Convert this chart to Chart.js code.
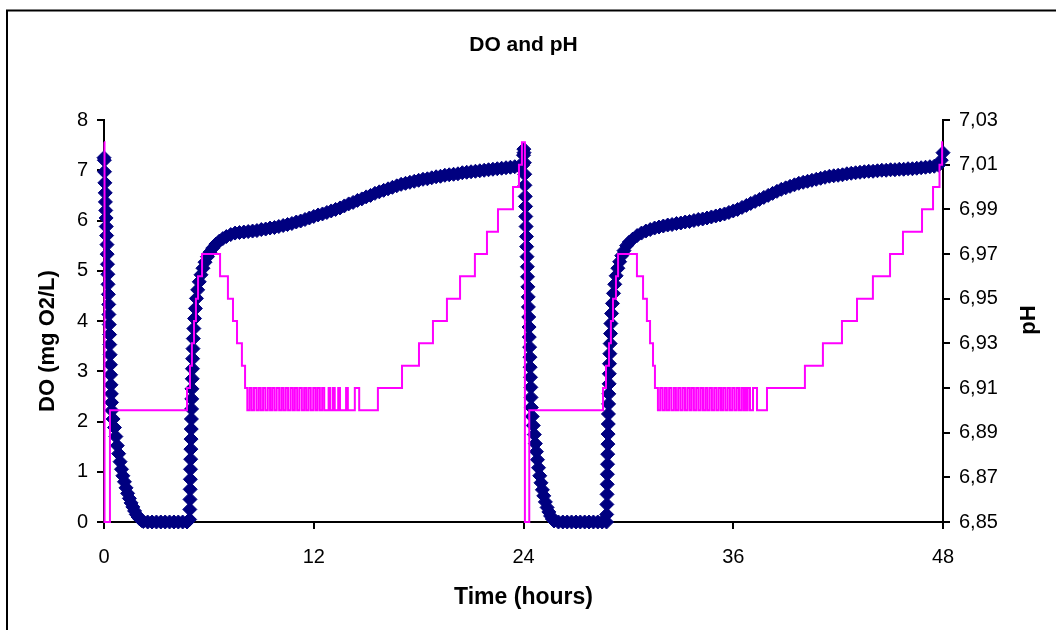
<!DOCTYPE html>
<html>
<head>
<meta charset="utf-8">
<title>DO and pH</title>
<script src="https://cdn.jsdelivr.net/npm/chart.js@4.4.1/dist/chart.umd.min.js"></script>
<style>
  html, body { margin: 0; padding: 0; background: #fff; }
  canvas { display: block; }
</style>
</head>
<body>
<canvas id="grafica" width="1056" height="630"></canvas>
<script>
// Textos de la gráfica
const tituloGrafica = 'DO and pH';
const tituloX = 'Time (hours)';
const tituloDO = 'DO (mg O2/L)';
const tituloPH = 'pH';

// Marcas de los ejes
const ticksX = [0, 12, 24, 36, 48];
const ticksDO = [0, 1, 2, 3, 4, 5, 6, 7, 8];
const ticksPH = [6.85, 6.87, 6.89, 6.91, 6.93, 6.95, 6.97, 6.99, 7.01, 7.03];

// Oxígeno disuelto (horas / mg O2/L)
const doTime = [
    0, 0.02, 0.03, 0.05, 0.07, 0.08, 0.10, 0.12, 0.13, 0.15, 0.17, 0.18, 0.20, 0.22, 0.23, 0.25, 0.27, 0.28, 0.30, 0.32, 0.33, 0.35, 0.37, 0.38, 0.40, 0.42, 0.43, 0.45,
    0.52, 0.60, 0.68, 0.76, 0.84, 0.92, 1.00, 1.08, 1.17, 1.26, 1.35, 1.45, 1.55, 1.65, 1.75, 1.85, 1.95, 2.05, 2.15, 2.25,
    2.5, 2.75, 3, 3.25, 3.5, 3.75, 4, 4.25, 4.5, 4.75,
    4.90, 4.91, 4.92, 4.93, 4.94, 4.95, 4.96, 4.97, 4.98, 4.99, 5.00, 5.01, 5.02, 5.03, 5.05, 5.06, 5.07, 5.09,
    5.11, 5.14, 5.18, 5.23, 5.29, 5.36, 5.45, 5.55, 5.66, 5.78, 5.92, 6.06, 6.22, 6.40, 6.60, 6.80, 7.00, 7.25, 7.50,
    7.75, 8.0, 8.25, 8.5, 8.75, 9.0, 9.25, 9.5, 9.75, 10.0,
    10.25, 10.5, 10.75, 11.0, 11.25, 11.5, 11.75, 12.0, 12.25, 12.5,
    12.75, 13.0, 13.25, 13.5, 13.75, 14.0, 14.25, 14.5, 14.75, 15.0,
    15.25, 15.5, 15.75, 16.0, 16.25, 16.5, 16.75, 17.0, 17.25, 17.5,
    17.75, 18.0, 18.25, 18.5, 18.75, 19.0, 19.25, 19.5, 19.75, 20.0,
    20.25, 20.5, 20.75, 21.0, 21.25, 21.5, 21.75, 22.0, 22.25, 22.5,
    22.75, 23.0, 23.25, 23.5, 23.75, 23.95,
    24.00, 24.02, 24.03, 24.05, 24.07, 24.08, 24.10, 24.12, 24.13, 24.15, 24.17, 24.18, 24.20, 24.22,
    24.23, 24.25, 24.27, 24.28, 24.30, 24.32, 24.33, 24.35, 24.37, 24.38, 24.40, 24.42, 24.43, 24.45,
    24.50, 24.56, 24.62, 24.68, 24.74, 24.80, 24.86, 24.93, 25.00, 25.08, 25.16, 25.25, 25.35, 25.45, 25.55, 25.65, 25.75,
    26.0, 26.25, 26.5, 26.75, 27.0, 27.25, 27.5, 27.75, 28.0, 28.25, 28.5, 28.75,
    28.76, 28.77, 28.78, 28.79, 28.80, 28.81, 28.82, 28.83, 28.84, 28.85,
    28.86, 28.87, 28.88, 28.90, 28.91, 28.92, 28.94, 28.96, 28.98, 29.00,
    29.04, 29.09, 29.15, 29.22, 29.30, 29.40, 29.50, 29.62, 29.75, 29.90,
    30.05, 30.25, 30.50, 30.75,
    31.0, 31.25, 31.5, 31.75, 32.0, 32.25, 32.5, 32.75, 33.0, 33.25,
    33.5, 33.75, 34.0, 34.25, 34.5, 34.75, 35.0, 35.25, 35.5, 35.75,
    36.0, 36.25, 36.5, 36.75, 37.0, 37.25, 37.5, 37.75, 38.0, 38.25,
    38.5, 38.75, 39.0, 39.25, 39.5, 39.75, 40.0, 40.25, 40.5, 40.75,
    41.0, 41.25, 41.5, 41.75, 42.0, 42.25, 42.5, 42.75, 43.0, 43.25,
    43.5, 43.75, 44.0, 44.25, 44.5, 44.75, 45.0, 45.25, 45.5, 45.75,
    46.0, 46.25, 46.5, 46.75, 47.0, 47.25, 47.5, 47.75,
    47.9, 48.0, 48.02
];
const doValue = [
    7.25, 7.20, 6.97, 6.75, 6.55, 6.37, 6.20, 6.05, 5.88, 5.70, 5.52, 5.33, 5.13, 4.93, 4.73, 4.53, 4.33, 4.13, 3.93, 3.73, 3.53, 3.33, 3.13, 2.93, 2.73, 2.55, 2.38, 2.22,
    2.05, 1.88, 1.70, 1.52, 1.36, 1.20, 1.05, 0.92, 0.80, 0.68, 0.57, 0.47, 0.38, 0.30, 0.22, 0.15, 0.10, 0.06, 0.03, 0.01,
    0, 0, 0, 0, 0, 0, 0, 0, 0, 0,
    0.05, 0.25, 0.45, 0.65, 0.85, 1.05, 1.25, 1.45, 1.65, 1.85, 2.05, 2.25, 2.45, 2.65, 2.85, 3.05, 3.25, 3.45,
    3.65, 3.85, 4.05, 4.25, 4.45, 4.62, 4.78, 4.92, 5.05, 5.17, 5.28, 5.37, 5.45, 5.53, 5.59, 5.64, 5.68, 5.72, 5.75,
    5.76, 5.77, 5.78, 5.79, 5.80, 5.82, 5.83, 5.85, 5.86, 5.88,
    5.90, 5.92, 5.94, 5.97, 5.99, 6.02, 6.05, 6.08, 6.11, 6.13,
    6.16, 6.19, 6.22, 6.25, 6.29, 6.33, 6.36, 6.40, 6.43, 6.47,
    6.50, 6.54, 6.57, 6.60, 6.63, 6.66, 6.69, 6.72, 6.74, 6.76,
    6.78, 6.80, 6.82, 6.83, 6.85, 6.87, 6.88, 6.90, 6.91, 6.92,
    6.93, 6.95, 6.96, 6.97, 6.98, 6.99, 7.00, 7.01, 7.02, 7.03,
    7.04, 7.05, 7.06, 7.07, 7.08, 7.10,
    7.30, 7.42, 7.35, 7.15, 6.92, 6.70, 6.48, 6.28, 6.08, 5.88, 5.68, 5.48, 5.28, 5.08,
    4.88, 4.68, 4.48, 4.28, 4.08, 3.88, 3.68, 3.48, 3.28, 3.08, 2.88, 2.68, 2.48, 2.28,
    2.10, 1.92, 1.74, 1.56, 1.40, 1.24, 1.08, 0.92, 0.78, 0.64, 0.52, 0.40, 0.29, 0.20, 0.12, 0.06, 0.02,
    0, 0, 0, 0, 0, 0, 0, 0, 0, 0, 0, 0,
    0.15, 0.35, 0.55, 0.75, 0.95, 1.15, 1.35, 1.55, 1.75, 1.95,
    2.15, 2.35, 2.55, 2.75, 2.95, 3.15, 3.35, 3.55, 3.75, 3.95,
    4.15, 4.35, 4.55, 4.73, 4.90, 5.05, 5.18, 5.30, 5.40, 5.50,
    5.57, 5.63, 5.70, 5.75,
    5.79, 5.82, 5.85, 5.87, 5.89, 5.91, 5.92, 5.94, 5.95, 5.97,
    5.98, 6.00, 6.02, 6.03, 6.05, 6.07, 6.09, 6.11, 6.13, 6.16,
    6.19, 6.22, 6.26, 6.30, 6.34, 6.38, 6.42, 6.46, 6.50, 6.54,
    6.58, 6.62, 6.65, 6.68, 6.71, 6.74, 6.76, 6.78, 6.80, 6.82,
    6.84, 6.86, 6.88, 6.89, 6.90, 6.91, 6.93, 6.94, 6.95, 6.96,
    6.97, 6.98, 6.98, 6.99, 7.00, 7.00, 7.01, 7.01, 7.02, 7.02,
    7.03, 7.03, 7.04, 7.05, 7.06, 7.07, 7.08, 7.10,
    7.20, 7.35, 7.45
];

// pH (horas / unidades de pH), cada punto marca un cambio de valor
const phTime = [
    0, 0.03, 0.34, 4.75, 4.92, 5.03, 5.15, 5.26, 5.38, 5.61, 6.64, 7.09, 7.38, 7.61, 7.89, 8.07,
    8.2, 8.33, 8.45, 8.58, 8.72, 8.85, 8.97, 9.1, 9.23, 9.37, 9.5, 9.62, 9.75, 9.88, 10.02, 10.15, 10.27, 10.4,
    10.53, 10.67, 10.8, 10.92, 11.05, 11.18, 11.32, 11.45, 11.57, 11.7, 11.83, 11.97, 12.1, 12.22, 12.35, 12.48, 12.6,
    12.85, 12.95, 13.1, 13.2, 13.4, 13.5, 13.85, 13.95, 14.35, 14.6,
    15.67, 17.05, 18.02, 18.82, 19.62, 20.37, 21.22, 21.91, 22.54, 23.4, 23.74, 23.91, 24.08, 24.33,
    28.55, 28.72, 28.89, 29.0, 29.12, 29.29, 29.41, 30.49, 30.84, 31.06, 31.24, 31.41, 31.52,
    31.69, 31.82, 31.95, 32.08, 32.2, 32.33, 32.46, 32.6, 32.72, 32.85,
    32.98, 33.11, 33.24, 33.37, 33.5, 33.62, 33.75, 33.88, 34.01, 34.14,
    34.27, 34.4, 34.52, 34.65, 34.78, 34.91, 35.04, 35.17, 35.3, 35.42,
    35.55, 35.68, 35.81, 35.94, 36.07, 36.2, 36.33, 36.46, 36.58, 36.68, 36.78,
    36.83, 36.96, 37.13, 37.36,
    37.93, 40.1, 41.13, 42.22, 43.08, 43.99, 44.97, 45.71, 46.8, 47.43, 47.8, 47.95, 48.0
];
const phValue = [
    7.02, 6.85, 6.90, 6.91, 6.92, 6.93, 6.94, 6.95, 6.96, 6.97, 6.96, 6.95, 6.94, 6.93, 6.92, 6.91,
    6.90, 6.91, 6.90, 6.91, 6.90, 6.91, 6.90, 6.91, 6.90, 6.91, 6.90, 6.91, 6.90, 6.91, 6.90, 6.91, 6.90, 6.91,
    6.90, 6.91, 6.90, 6.91, 6.90, 6.91, 6.90, 6.91, 6.90, 6.91, 6.90, 6.91, 6.90, 6.91, 6.90, 6.91, 6.90,
    6.91, 6.90, 6.91, 6.90, 6.91, 6.90, 6.91, 6.90, 6.91, 6.90,
    6.91, 6.92, 6.93, 6.94, 6.95, 6.96, 6.97, 6.98, 6.99, 7.00, 7.01, 7.02, 6.85, 6.90,
    6.91, 6.92, 6.93, 6.94, 6.95, 6.96, 6.97, 6.96, 6.95, 6.94, 6.93, 6.92, 6.91,
    6.90, 6.91, 6.90, 6.91, 6.90, 6.91, 6.90, 6.91, 6.90, 6.91,
    6.90, 6.91, 6.90, 6.91, 6.90, 6.91, 6.90, 6.91, 6.90, 6.91,
    6.90, 6.91, 6.90, 6.91, 6.90, 6.91, 6.90, 6.91, 6.90, 6.91,
    6.90, 6.91, 6.90, 6.91, 6.90, 6.91, 6.90, 6.91, 6.90, 6.91, 6.90,
    6.91, 6.90, 6.91, 6.90,
    6.91, 6.92, 6.93, 6.94, 6.95, 6.96, 6.97, 6.98, 6.99, 7.00, 7.01, 7.02, 7.02
];

const fuente = "'Liberation Sans', Arial, sans-serif";
Chart.defaults.font.family = fuente;
Chart.defaults.color = '#000';

// Marco exterior y títulos dibujados a mano (el título de pH va girado como en Excel)
const marcoYTitulos = {
    id: 'marcoYTitulos',
    beforeDraw(chart) {
        const c = chart.ctx;
        c.save();
        c.fillStyle = '#fff';
        c.fillRect(0, 0, chart.width, chart.height);
        c.strokeStyle = '#000';
        c.lineWidth = 2;
        c.beginPath();
        c.moveTo(7, chart.height + 5);
        c.lineTo(7, 10.5);
        c.lineTo(chart.width + 5, 10.5);
        c.stroke();
        c.restore();
    },
    afterDraw(chart) {
        const c = chart.ctx;
        const area = chart.chartArea;
        c.save();
        c.fillStyle = '#000';
        c.textAlign = 'center';
        c.textBaseline = 'middle';
        c.font = 'bold 21px ' + fuente;
        c.fillText(tituloGrafica, (area.left + area.right) / 2, 45);

        c.font = 'bold 22px ' + fuente;
        c.translate(48, 341);
        c.rotate(-Math.PI / 2);
        c.fillText(tituloDO, 0, 0);
        c.restore();

        c.save();
        c.fillStyle = '#000';
        c.textAlign = 'center';
        c.textBaseline = 'middle';
        c.font = 'bold 22px ' + fuente;
        c.translate(1029, 320);
        c.rotate(-Math.PI / 2);
        c.fillText(tituloPH, 0, 0);
        c.restore();
    }
};

const ejeNegro = { color: '#000', width: 2 };
const rejilla = { drawOnChartArea: false, color: '#000', lineWidth: 2, tickLength: 7 };

const ctx = document.getElementById('grafica').getContext('2d');
window.myChart = new Chart(ctx, {
    type: 'line',
    data: {
        datasets: [
            {
                label: 'pH',
                data: phTime.map((t, i) => ({ x: t, y: phValue[i] })),
                yAxisID: 'yPH',
                borderColor: '#FF00FF',
                borderWidth: 2,
                pointRadius: 0,
                stepped: true,
                fill: false,
                clip: false,
                order: 0
            },
            {
                label: 'DO',
                data: doTime.map((t, i) => ({ x: t, y: doValue[i] })),
                yAxisID: 'yDO',
                showLine: false,
                pointStyle: 'rectRot',
                pointRadius: 7,
                pointBackgroundColor: '#000080',
                pointBorderColor: '#000080',
                pointBorderWidth: 1,
                clip: false,
                order: 1
            }
        ]
    },
    options: {
        responsive: false,
        animation: false,
        devicePixelRatio: 1,
        layout: { padding: { top: 120, left: 0, right: 0, bottom: 0 } },
        plugins: {
            legend: { display: false },
            tooltip: { enabled: false },
            title: { display: false }
        },
        scales: {
            x: {
                type: 'linear',
                min: 0,
                max: 48,
                afterBuildTicks: (eje) => { eje.ticks = ticksX.map(v => ({ value: v })); },
                afterFit: (eje) => { eje.height = 108; },
                ticks: { font: { size: 20 }, padding: 16, maxRotation: 0 },
                border: ejeNegro,
                grid: rejilla,
                title: {
                    display: true,
                    text: tituloX,
                    font: { size: 23, weight: 'bold' },
                    padding: { top: 0, bottom: 19 }
                }
            },
            yDO: {
                type: 'linear',
                position: 'left',
                min: 0,
                max: 8,
                afterBuildTicks: (eje) => { eje.ticks = ticksDO.map(v => ({ value: v })); },
                afterFit: (eje) => { eje.width = 104; },
                ticks: { font: { size: 20 }, padding: 9 },
                border: ejeNegro,
                grid: rejilla
            },
            yPH: {
                type: 'linear',
                position: 'right',
                min: 6.85,
                max: 7.03,
                afterBuildTicks: (eje) => { eje.ticks = ticksPH.map(v => ({ value: v })); },
                afterFit: (eje) => { eje.width = 113; },
                ticks: {
                    font: { size: 20 },
                    padding: 9,
                    callback: (v) => v.toFixed(2).replace('.', ',')
                },
                border: ejeNegro,
                grid: rejilla
            }
        }
    },
    plugins: [marcoYTitulos]
});
</script>
</body>
</html>
